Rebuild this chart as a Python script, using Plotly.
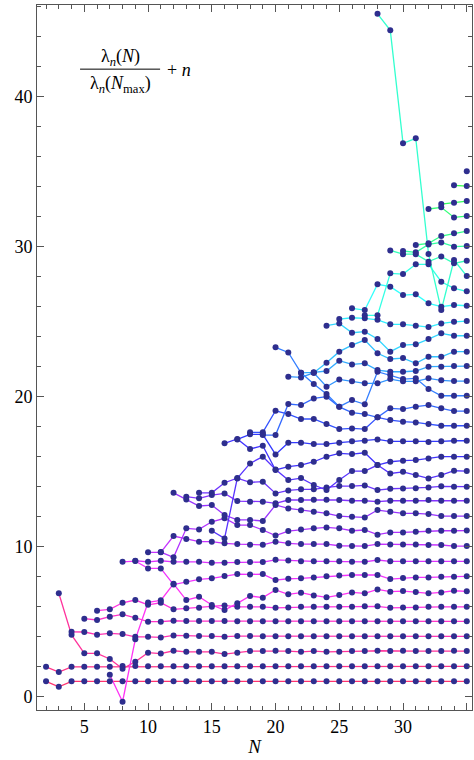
import plotly.graph_objects as go

N_MAX = 35

# each list ends at N = 35; the first value belongs to N = 36 - len(list)
line_0 = [1.0, 0.64] + [1.0] * 32
line_1 = [1.97, 1.62, 1.97, 1.97, 1.97, 1.97, 2.02, 2.02] + [2.0] * 26
line_2 = [6.87, 4.1, 2.87, 2.87, 2.49, 1.84, 2.31, 2.91, 2.85, 3.04, 2.97, 2.97, 2.97,
          2.82, 2.91, 3.02, 3.02, 3.04, 3.02, 2.97, 3.02, 2.97, 2.97, 3.02, 3.02, 3.04,
          3.02, 3.04, 3.02, 3.02, 3.02, 3.04, 3.02]
line_3 = [4.3, 4.29, 4.11, 4.2, 4.15, 3.97, 3.97, 3.93, 4.06, 4.04, 4.02, 4.02, 3.98,
          4.02, 4.02] + [4.0] * 17
line_4 = [5.18, 5.09, 5.31, 5.47, 5.24, 4.98, 4.98, 5.04, 5.02, 5.02, 5.02, 5.02] + [5.0] * 19
line_5 = [5.71, 5.8, 6.24, 6.42, 6.1, 6.24, 5.8, 5.87, 5.9, 5.97, 6.06, 5.97, 5.97, 5.97,
          5.9, 5.93, 5.97, 5.97, 5.97, 5.97, 5.97, 6.0, 6.0, 5.9, 5.93, 5.93, 5.97, 5.97,
          5.97, 5.97]
line_6 = [1.44, -0.36, 3.8, 6.26, 6.4, 7.5, 6.42, 6.64, 6.09, 5.75, 6.2, 6.69, 6.58, 7.09,
          6.8, 6.91, 6.73, 6.6, 6.75, 6.93, 6.87, 7.13, 6.98, 7.02, 6.95, 6.87, 6.93, 7.04, 7.0]
line_7 = [8.97, 9.02, 8.53, 8.53, 7.45, 7.64, 7.8, 7.87, 8.03, 8.15, 8.13, 8.15, 7.75, 7.84,
          7.87, 7.93, 8.0, 8.06, 8.09, 8.09, 8.09, 7.82, 7.89, 7.93, 7.93, 7.98, 7.98, 8.0]
line_8 = [9.04, 8.97, 9.04, 8.97, 8.97, 8.97, 8.9, 8.9, 8.95, 8.95, 8.95, 9.1, 9.05, 9.0,
          9.0, 9.0, 9.0, 8.97, 8.97, 9.09, 9.0, 9.0, 9.0, 9.0, 9.0, 9.0, 9.0]
line_9 = [9.6, 9.6, 10.69, 10.49, 10.31, 10.31, 10.2, 10.15, 10.1, 10.1, 10.31, 10.2, 10.15,
          10.15, 10.15, 10.04, 10.02, 10.02, 10.15, 10.13, 10.13, 10.13, 10.09, 10.09, 10.02, 10.02]
line_10 = [9.62, 9.27, 11.2, 11.13, 11.64, 11.87, 11.42, 11.42, 11.09, 10.72, 11.02, 11.13,
           11.2, 11.26, 11.2, 11.04, 11.09, 10.78, 10.93, 10.93, 10.98, 11.04, 11.04, 11.04, 11.05]
line_11 = [13.57, 13.13, 12.69, 12.75, 12.09, 11.76, 11.76, 11.69, 12.76, 12.53, 12.4, 12.31,
           12.2, 12.02, 11.97, 11.93, 12.42, 12.31, 12.2, 12.2, 12.15, 12.02, 12.02, 12.02]
line_12 = [13.31, 13.2, 13.42, 13.53, 13.02, 12.98, 12.98, 12.87, 13.09, 13.09, 13.1, 13.1,
           13.09, 13.04, 13.04, 12.98, 13.04, 13.04, 13.04, 13.09, 13.04, 13.04, 13.04]
line_13 = [13.57, 13.57, 14.24, 14.55, 14.27, 14.31, 13.53, 13.73, 13.8, 13.8, 13.93, 14.02,
           14.02, 14.06, 13.75, 13.84, 13.86, 13.88, 13.93, 14.0, 13.98, 13.98]
line_14 = [11.04, 10.53, 14.53, 15.53, 15.98, 15.12, 14.42, 14.55, 14.09, 13.75, 14.42, 15.02,
           15.02, 15.42, 14.86, 14.97, 14.75, 14.53, 14.75, 15.04, 15.02]
line_15 = [16.87, 17.16, 16.49, 16.71, 15.09, 15.31, 15.42, 15.64, 15.98, 16.2, 16.15, 16.24,
           15.42, 15.64, 15.71, 15.75, 15.86, 15.98, 15.98, 15.98]
line_16 = [17.13, 17.47, 17.47, 16.13, 16.91, 16.91, 16.82, 16.82, 16.91, 17.0, 17.04, 17.13,
           17.0, 17.0, 17.0, 16.95, 17.0, 17.04, 17.04]
line_17 = [17.6, 17.6, 19.04, 18.82, 18.49, 18.49, 18.15, 17.82, 17.86, 17.82, 18.6, 18.42,
           18.31, 18.26, 18.15, 18.04, 18.04, 18.04]
line_18 = [17.42, 17.42, 19.49, 19.42, 19.86, 19.98, 19.3, 18.91, 18.82, 18.6, 19.2, 19.15,
           19.31, 19.42, 19.2, 19.02, 19.02]
line_19 = [23.27, 22.93, 21.57, 20.82, 20.15, 19.31, 19.75, 19.47, 21.64, 21.42, 21.15, 21.2,
           20.49, 20.04, 20.04, 20.04]
line_20 = [21.31, 21.26, 21.57, 20.64, 21.13, 21.0, 20.87, 20.87, 21.15, 21.0, 21.0, 21.2,
           21.07, 21.02, 21.02]
line_21 = [21.57, 21.6, 21.69, 22.38, 22.13, 22.2, 21.75, 21.64, 21.64, 21.69, 21.98, 21.98,
           22.02, 22.02]
line_22 = [21.57, 22.24, 22.98, 23.42, 23.75, 22.87, 22.49, 22.55, 22.2, 22.64, 22.64, 22.98, 22.98]
line_23 = [24.71, 24.86, 24.24, 24.31, 23.82, 22.98, 23.42, 23.47, 23.82, 24.2, 24.04, 24.04]
line_24 = [25.15, 25.24, 25.2, 25.1, 24.8, 24.8, 24.71, 24.62, 24.86, 24.97, 25.02]
line_25 = [25.87, 25.75, 27.47, 27.31, 26.75, 26.8, 26.2, 25.98, 26.09, 26.04]
line_26 = [25.4, 25.4, 28.2, 28.15, 28.8, 28.8, 27.64, 27.2, 27.0]
line_27 = [45.5, 44.4, 36.87, 37.2, 29.49, 25.75, 29.09, 28.02]
line_28 = [29.73, 29.48, 29.48, 28.98, 29.33, 28.87, 29.04]
line_29 = [29.69, 29.6, 30.13, 30.26, 29.98, 30.02]
line_30 = [30.09, 30.2, 30.69, 30.87, 31.02]
line_31 = [32.49, 32.6, 31.93, 32.02]
line_32 = [32.82, 32.9, 33.02]
line_33 = [34.07, 34.02]
line_34 = [35.0]

all_lines = [line_0, line_1, line_2, line_3, line_4, line_5, line_6, line_7, line_8, line_9,
             line_10, line_11, line_12, line_13, line_14, line_15, line_16, line_17, line_18,
             line_19, line_20, line_21, line_22, line_23, line_24, line_25, line_26, line_27,
             line_28, line_29, line_30, line_31, line_32, line_33, line_34]

x_ticks = [5, 10, 15, 20, 25, 30, 35]
y_ticks = [0, 10, 20, 30, 40]

fig = go.Figure()
n_lines = len(all_lines)
mx, my = [], []
for n, vals in enumerate(all_lines):
    xs = list(range(N_MAX + 1 - len(vals), N_MAX + 1))
    hue = 342 - 222 * n / (n_lines - 1)
    fig.add_trace(go.Scatter(x=xs, y=vals, mode="lines",
                             line=dict(color=f"hsl({hue:.0f},100%,60%)", width=1.3),
                             hoverinfo="skip", showlegend=False))
    mx += xs
    my += vals

fig.add_trace(go.Scatter(x=mx, y=my, mode="markers",
                         marker=dict(color="#2e2e8e", size=6, line=dict(width=0)),
                         showlegend=False))

font_fam = "Liberation Serif, Times New Roman, serif"
axis_common = dict(showline=True, linecolor="#555", linewidth=1, mirror="allticks",
                   ticks="inside", ticklen=7, tickcolor="#555", showgrid=False,
                   zeroline=False, tickfont=dict(family=font_fam, size=18, color="#000"))

fig.update_xaxes(range=[1.29, 35.41], tickvals=x_ticks,
                 minor=dict(dtick=1, tick0=0, ticks="inside", ticklen=4, tickcolor="#555"),
                 title=dict(text="<i>N</i>", font=dict(family=font_fam, size=19, color="#000"),
                            standoff=4),
                 **axis_common)
fig.update_yaxes(range=[-0.91, 46.09], tickvals=y_ticks,
                 minor=dict(dtick=2, tick0=0, ticks="inside", ticklen=4, tickcolor="#555"),
                 **axis_common)

ann_font = dict(family=font_fam, size=18, color="#000")
fig.add_annotation(xref="paper", yref="paper", x=0.191, y=0.926, showarrow=False,
                   xanchor="center", yanchor="middle",
                   text="λ<sub><i>n</i></sub>(<i>N</i>)", font=ann_font)
fig.add_annotation(xref="paper", yref="paper", x=0.191, y=0.887, showarrow=False,
                   xanchor="center", yanchor="middle",
                   text="λ<sub><i>n</i></sub>(<i>N</i><sub>max</sub>)", font=ann_font)
fig.add_annotation(xref="paper", yref="paper", x=0.294, y=0.908, showarrow=False,
                   xanchor="left", yanchor="middle", text="+ <i>n</i>", font=ann_font)
fig.add_shape(type="line", xref="paper", yref="paper", x0=0.099, x1=0.283,
              y0=0.909, y1=0.909, line=dict(color="#000", width=1))

fig.update_layout(width=474, height=760, margin=dict(l=37, r=2, t=5, b=50),
                  plot_bgcolor="white", paper_bgcolor="white")

fig.write_html("out.html")
